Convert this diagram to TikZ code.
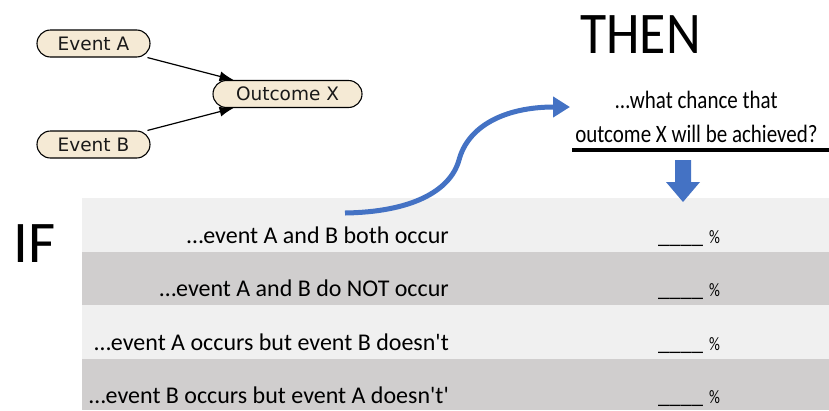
\documentclass[tikz,border=0pt]{standalone}
\usepackage{fontspec}
\setmainfont{Carlito}
\newfontfamily\calfont{Carlito}
\newfontfamily\nodefont{DejaVu Sans}
\usetikzlibrary{arrows.meta}
\definecolor{cream}{HTML}{F5EAD5}
\definecolor{blueA}{HTML}{4472C4}
\definecolor{rowlight}{HTML}{F0F0F0}
\definecolor{rowdark}{HTML}{D0CECE}
\begin{document}
\begin{tikzpicture}[x=1pt,y=-1pt,
  evt/.style={draw=black, line width=1.1pt, fill=cream, rounded corners=13.5pt,
    minimum height=27pt, inner sep=0pt, text=black!90,
    font=\nodefont\fontsize{18.5}{22}\selectfont},
  conn/.style={-{Latex[length=14pt,width=10pt]}, line width=1.2pt},
  rowtxt/.style={anchor=base east, inner sep=0pt, font=\calfont\fontsize{24}{28}\selectfont},
  pct/.style={anchor=base west, inner sep=0pt, font=\calfont},
  qtxt/.style={anchor=base, inner sep=0pt, font=\fontsize{25}{30}\selectfont},
  big/.style={anchor=base west, inner sep=0pt, font=\fontsize{59}{70}\selectfont}]
\useasboundingbox (0,0) rectangle (829,410);
\fill[white] (0,0) rectangle (829,410);
% table rows
\fill[rowlight] (82,198) rectangle (829,252);
\fill[rowdark] (82,252) rectangle (829,305);
\fill[rowlight] (82,305) rectangle (829,359);
\fill[rowdark] (82,359) rectangle (829,410);
% network
\node[evt, minimum width=113pt] (A) at (93.5,43.5) {Event A};
\node[evt, minimum width=113pt] (B) at (93.5,144.5) {Event B};
\node[evt, minimum width=149pt] (X) at (287.5,94) {Outcome X};
\draw[conn] (A) -- (X);
\draw[conn] (B) -- (X);
% titles
\node[big] (then) at (580,53) {\scalebox{0.91}[1]{THEN}};
\node[big] (if) at (13,262) {IF};
% question
\node[qtxt] (q1) at (696.5,108) {\scalebox{0.84}[1]{\ldots what chance that}};
\node[qtxt] (q2) at (696.5,142) {\scalebox{0.84}[1]{outcome X will be achieved?}};
\draw[line width=4pt] (572,150) -- (829,150);
% down arrow
\fill[blueA] (675,160) -- (691,160) -- (691,182) -- (700,182) -- (683,202) -- (666,182) -- (675,182) -- cycle;
% curved arrow
\coordinate (bs) at (345,213);
\coordinate (be) at (570,107);
\draw[blueA, line width=5pt, -{Triangle[length=17pt,width=20pt]}]
  (bs) .. controls (410,212) and (450,192) .. (459,160)
       .. controls (468,126) and (505,107) .. (be);
% row texts
\node[rowtxt] (r1) at (449,243) {\ldots event A and B both occur};
\node[rowtxt] (r2) at (449,296.5) {\ldots event A and B do NOT occur};
\node[rowtxt] (r3) at (449,350) {\ldots event A occurs but event B doesn't};
\node[rowtxt] (r4) at (449,403.5) {\ldots event B occurs but event A doesn't'};
\foreach \y/\n in {243/1,296.5/2,350/3,403.5/4}{
  \node[pct] (p\n) at (658,\y) {{\fontsize{22.5}{27}\selectfont\_\_\_\_}\hspace{6pt}\scalebox{0.8}[1]{\fontsize{19}{22}\selectfont\%}};
}
\end{tikzpicture}
\end{document}
